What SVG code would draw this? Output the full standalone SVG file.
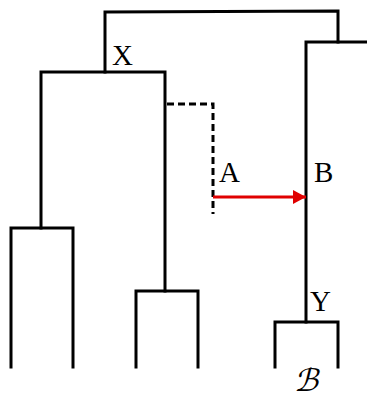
<svg xmlns="http://www.w3.org/2000/svg" width="367" height="399" viewBox="0 0 367 399">
<style>
.e{fill:none;stroke:#000;stroke-width:3;stroke-linecap:square;stroke-linejoin:miter}
.d{fill:none;stroke:#000;stroke-width:3;stroke-dasharray:7,4}
.t{font-family:"Liberation Serif","Times New Roman",serif;font-size:29px;fill:#000}
</style>
<defs>
<marker id="ah" markerWidth="14" markerHeight="14" refX="13" refY="7" orient="auto" markerUnits="userSpaceOnUse">
<path d="M0,0 L13,7 L0,14 Z" fill="#e00000"/>
</marker>
</defs>
<g id="edges">
<path class="e" d="M105,72 L105,12 L338,11 L338,42"/>
<path class="e" d="M367,42 L306,42 L306,322"/>
<path class="e" d="M41,228 L41,72 L165,72 L165,291"/>
<path class="e" d="M11,367 L11,228 L73,228 L73,367"/>
<path class="e" d="M136,367 L136,291 L198,291 L198,367"/>
<path class="e" d="M275,367 L275,322 L338,322 L338,367"/>
<path class="d" d="M167,104 L213,104 L213,214"/>
<line x1="213" y1="197" x2="306" y2="197" stroke="#e00000" stroke-width="3" marker-end="url(#ah)"/>
</g>
<g id="X"><text class="t" x="112" y="65">X</text></g>
<g id="A"><text class="t" x="219" y="182">A</text></g>
<g id="B"><text class="t" x="314" y="182">B</text></g>
<g id="Y"><text class="t" x="310" y="311">Y</text></g>
<g id="Bcal" transform="translate(306,391) skewX(-14)"><text x="0" y="0" text-anchor="middle" font-family="'DejaVu Sans',sans-serif" font-size="31">ℬ</text></g>
</svg>
